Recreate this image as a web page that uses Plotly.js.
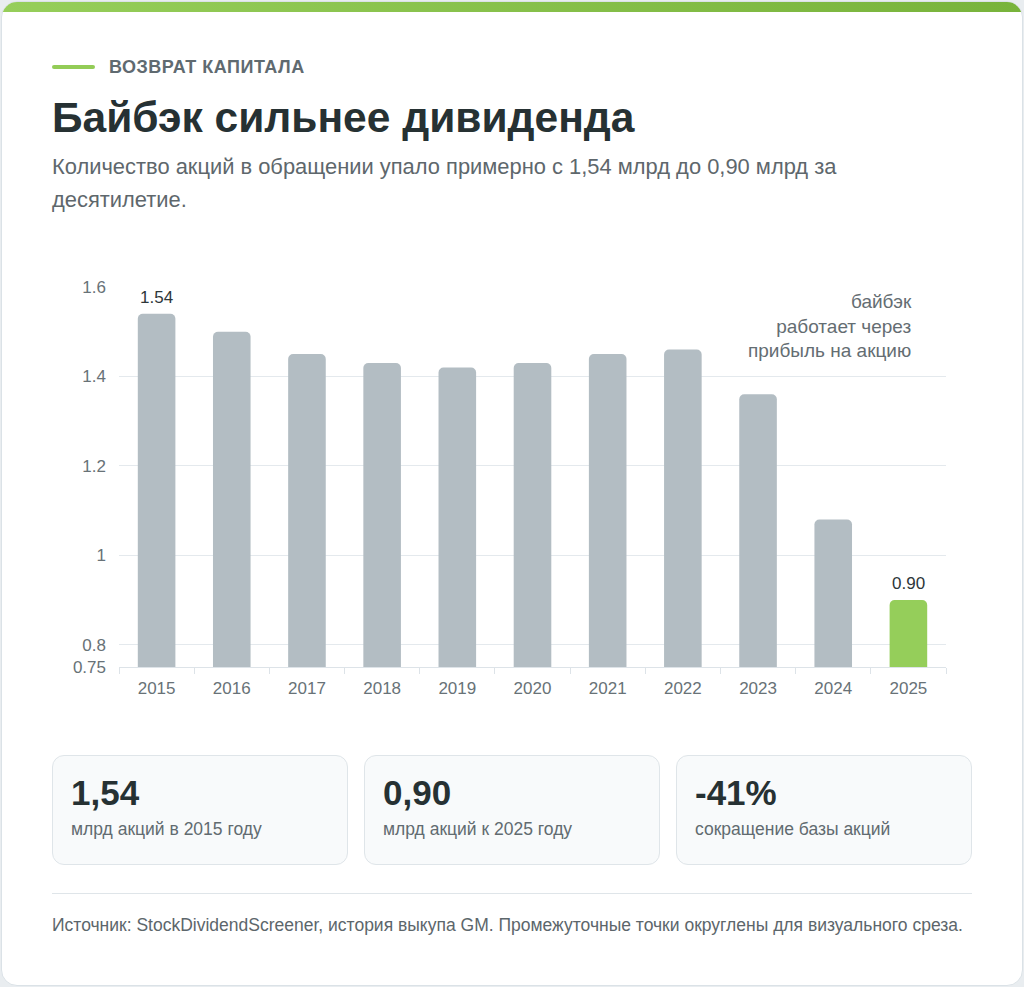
<!DOCTYPE html>
<html lang="ru">
<head>
<meta charset="utf-8">
<script src="https://cdn.plot.ly/plotly-3.0.1.min.js"></script>
<style>
  html, body { margin: 0; padding: 0; }
  body { width: 1024px; height: 987px; background: #e9edf0; font-family: "Liberation Sans", Arial, sans-serif; overflow: hidden; }
  .card { position: absolute; left: 1px; top: 1px; width: 1020px; height: 983px; background: #fff; border: 1px solid #dbe2e7; border-radius: 16px; overflow: hidden; }
  .topbar { position: absolute; left: 0; top: 0; width: 100%; height: 10px; background: linear-gradient(90deg, #96ce5a, #78b33b); }
  .eyebrow { position: absolute; left: 50px; top: 54px; height: 22px; display: flex; align-items: center; }
  .eyebrow .line { width: 43px; height: 4px; border-radius: 2px; background: #93cc57; margin-right: 14px; }
  .eyebrow .txt { font-size: 18px; font-weight: bold; color: #5f6a70; letter-spacing: 0.5px; }
  h1 { position: absolute; left: 50px; top: 91px; margin: 0; font-size: 42.5px; font-weight: bold; color: #263133; line-height: 50px; }
  .sub { position: absolute; left: 50px; top: 148px; width: 820px; margin: 0; font-size: 21.9px; color: #5e676c; line-height: 33px; }
  #chart { position: absolute; left: 50px; top: 239px; width: 920px; height: 480px; }
  .stats { position: absolute; left: 50px; top: 753px; width: 920px; display: flex; gap: 16px; }
  .stat { flex: 1; height: 110px; background: #f8fafb; border: 1px solid #dfe5e9; border-radius: 12px; box-sizing: border-box; padding: 17px 18px 0 18px; }
  .stat .num { font-size: 35px; font-weight: bold; color: #263133; line-height: 40px; }
  .stat .lbl { font-size: 17.5px; color: #616b70; margin-top: 6px; line-height: 20px; }
  .divider { position: absolute; left: 50px; top: 891px; width: 920px; height: 1px; background: #dfe5e9; }
  .source { position: absolute; left: 50px; top: 911px; font-size: 17.5px; line-height: 24px; color: #5c666b; }
</style>
</head>
<body>
<div class="card">
  <div class="topbar"></div>
  <div class="eyebrow"><div class="line"></div><div class="txt">ВОЗВРАТ КАПИТАЛА</div></div>
  <h1>Байбэк сильнее дивиденда</h1>
  <p class="sub">Количество акций в обращении упало примерно с 1,54 млрд до 0,90 млрд за десятилетие.</p>
  <div id="chart"></div>
  <div class="stats">
    <div class="stat"><div class="num">1,54</div><div class="lbl">млрд акций в 2015 году</div></div>
    <div class="stat"><div class="num">0,90</div><div class="lbl">млрд акций к 2025 году</div></div>
    <div class="stat"><div class="num">-41%</div><div class="lbl">сокращение базы акций</div></div>
  </div>
  <div class="divider"></div>
  <div class="source">Источник: StockDividendScreener, история выкупа GM. Промежуточные точки округлены для визуального среза.</div>
</div>
<script>
const years = ["2015","2016","2017","2018","2019","2020","2021","2022","2023","2024","2025"];
const shares = [1.54, 1.50, 1.45, 1.43, 1.42, 1.43, 1.45, 1.46, 1.36, 1.08, 0.90];
const labeledYears = ["2015", "2025"];
const yTickVals = [0.75, 0.8, 1, 1.2, 1.4, 1.6];
const yTickText = ["0.75", "0.8", "1", "1.2", "1.4", "1.6"];
const noteLines = ["байбэк", "работает через", "прибыль на акцию"];

const grey = "#b3bdc3", green = "#95ce5a";
const colors = years.map(y => y === "2025" ? green : grey);

const trace = {
  type: "bar", x: years, y: shares,
  marker: { color: colors, cornerradius: 5, line: { width: 0 } },
  width: 0.5, cliponaxis: false,
  hoverinfo: "x+y"
};

const valueLabels = years.map((y, i) => ({ y, i, v: shares[i] }))
  .filter(d => labeledYears.includes(d.y))
  .map(d => ({
    xref: "x", yref: "y", x: d.i, y: d.v, xanchor: "center", yanchor: "bottom",
    yshift: 5, showarrow: false, text: d.v.toFixed(2),
    font: { family: "Liberation Sans, Arial, sans-serif", size: 17, color: "#2d3639" }
  }));

const layout = {
  width: 920, height: 480,
  margin: { l: 67, r: 26, t: 46, b: 54 },
  paper_bgcolor: "#fff", plot_bgcolor: "#fff",
  font: { family: "Liberation Sans, Arial, sans-serif", size: 17, color: "#687277" },
  showlegend: false,
  bargap: 0.5,
  xaxis: {
    type: "category", categoryorder: "array", categoryarray: years,
    range: [-0.5, years.length - 0.5],
    tickson: "boundaries", ticks: "outside", ticklen: 6, tickcolor: "#dde3e8",
    showline: true, linecolor: "#dde3e8", linewidth: 1, showgrid: false, ticklabelstandoff: 6,
    tickfont: { size: 17, color: "#687277" }, fixedrange: true
  },
  yaxis: {
    range: [0.75, 1.6], tickvals: yTickVals, ticktext: yTickText,
    showgrid: true, gridcolor: "#e4e9ed", gridwidth: 1, zeroline: false, showline: false,
    ticks: "", ticklabelstandoff: 12, tickfont: { size: 17, color: "#687277" }, fixedrange: true
  },
  annotations: valueLabels.concat([{
    xref: "paper", yref: "paper", x: 1, y: 1, xanchor: "right", yanchor: "top",
    xshift: -32, yshift: -2, showarrow: false, text: noteLines.join("<br>"), align: "right",
    font: { family: "Liberation Sans, Arial, sans-serif", size: 19, color: "#646d72" }
  }])
};

Plotly.newPlot("chart", [trace], layout, { displayModeBar: false, staticPlot: true });
</script>
</body>
</html>
